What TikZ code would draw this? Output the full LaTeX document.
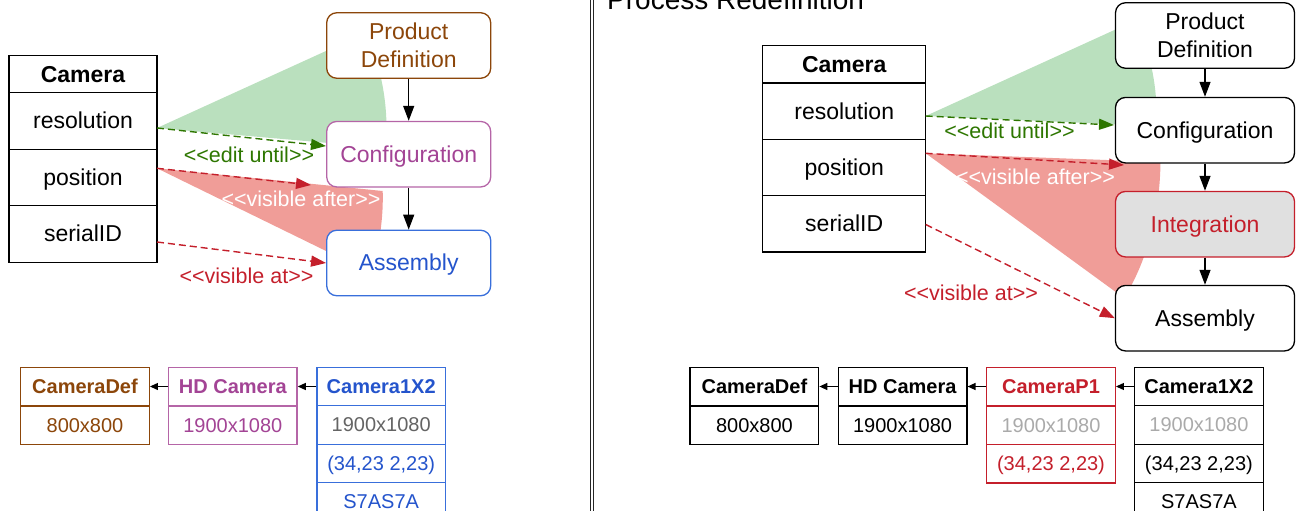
\documentclass[tikz,border=0pt]{standalone}
\usepackage{fontspec}
\setmainfont{Liberation Sans}
\usetikzlibrary{arrows.meta}
\definecolor{brownc}{RGB}{140,70,10}
\definecolor{purpc}{RGB}{163,68,149}
\definecolor{purpb}{RGB}{181,101,167}
\definecolor{bluec}{RGB}{36,84,204}
\definecolor{blueb}{RGB}{57,111,219}
\definecolor{greenc}{RGB}{45,118,0}
\definecolor{greenf}{RGB}{186,224,190}
\definecolor{redc}{RGB}{196,31,43}
\definecolor{redf}{RGB}{240,157,152}
\definecolor{grayf}{RGB}{224,224,224}
\definecolor{midgray}{RGB}{100,100,100}
\definecolor{paleg}{RGB}{170,170,170}
\newcommand\fsbody{\fontsize{23}{27.6}\selectfont}
\newcommand\fslab{\fontsize{21.5}{25}\selectfont}
\newcommand\fstab{\fontsize{20}{24}\selectfont}
\newcommand\fstitle{\fontsize{28}{33}\selectfont}
\newcommand\stopen{<\kern0pt<}
\newcommand\stclose{>\kern0pt>}
\begin{document}
\begin{tikzpicture}[x=1pt,y=-1pt,
  midbody/.style={text height=20.8pt, text depth=4.9pt},
  midtab/.style={text height=18.1pt, text depth=4.24pt},
  midlab/.style={text height=19.5pt, text depth=4.6pt},
  proc/.style={draw, fill=white, rounded corners=10pt, line width=1.3pt, minimum width=164pt, minimum height=65.5pt, inner sep=0pt, align=center, font=\fsbody},
  cell/.style={draw, fill=white, line width=1.3pt, inner sep=0pt, font=\fsbody, midbody},
  tcell/.style={draw, fill=white, line width=1.3pt, inner sep=0pt, minimum width=128.6pt, minimum height=38.5pt, font=\fstab, midtab},
  flow/.style={line width=1.3pt, -{Triangle[length=15pt,width=11pt]}},
  refarrow/.style={line width=1.2pt, -{Triangle[length=8pt,width=7pt]}},
  dep/.style={line width=1.4pt, dash pattern=on 7pt off 4pt, -{Triangle[length=15pt,width=11pt]}},
  lab/.style={font=\fslab, inner sep=0pt, midlab},
]
\useasboundingbox (0,0) rectangle (1296,511);

% ---------------- fans (left) ----------------
\fill[greenf] (157,128) -- ++(-24.5:229.5) arc[start angle=-24.5, end angle=5, radius=229.5] -- cycle;
\fill[redf] (157,168.3) -- (382.7,191) .. controls (383.5,215) and (380,250) .. (369,272) -- cycle;
% ---------------- fans (right) ----------------
\fill[greenf] (925.7,116) -- ++(-24.5:231) arc[start angle=-24.5, end angle=2.5, radius=231] -- cycle;
\fill[redf] (925.7,153.3) -- (1160.5,162) .. controls (1160,210) and (1148,260) .. (1124,298) -- cycle;

% ---------------- divider and title ----------------
\draw[line width=1.2pt, black!85] (590.7,-5) -- (590.7,520);
\draw[line width=1.2pt, black!85] (593.3,-5) -- (593.3,520);
\node[anchor=base west, font=\fstitle, inner sep=0pt] (title) at (607,9.5) {Process Redefinition};

% ---------------- left: Camera class ----------------
\node[cell, minimum width=148pt, minimum height=37pt, font=\fsbody\bfseries] (camL) at (83,74.2) {Camera};
\node[cell, minimum width=148pt, minimum height=56.5pt] (resL) at (83,120.9) {resolution};
\node[cell, minimum width=148pt, minimum height=56.5pt] (posL) at (83,177.4) {position};
\node[cell, minimum width=148pt, minimum height=56.5pt] (serL) at (83,233.9) {serialID};

% ---------------- left: process ----------------
\node[proc, draw=brownc, text=brownc] (pdL) at (408.7,45.5) {Product\\Definition};
\node[proc, midbody, draw=purpb, text=purpc] (cfL) at (408.7,154.2) {Configuration};
\node[proc, midbody, draw=blueb, text=bluec] (asL) at (408.7,263) {Assembly};
\draw[flow] (pdL.south) -- (cfL.north);
\draw[flow] (cfL.south) -- (asL.north);

\coordinate (gsL) at (157,128);
\coordinate (geL) at (326,146);
\coordinate (rsL) at (157,168.3);
\coordinate (reL) at (311,185);
\coordinate (vsL) at (157,242);
\draw[dep, greenc] (gsL) -- (geL);
\draw[dep, redc] (rsL) -- (reL);
\draw[dep, redc] (vsL) -- (asL.west);
\node[lab, text=greenc] (euL) at (249,155) {\stopen edit until\stclose};
\node[lab, text=white] (vaL) at (301,199) {\stopen visible after\stclose};
\node[lab, text=redc] (vtL) at (246.5,276) {\stopen visible at\stclose};

% ---------------- left: instances ----------------
\node[tcell, draw=brownc, text=brownc, font=\fstab\bfseries] (cdLh) at (85,386.5) {CameraDef};
\node[tcell, draw=brownc, text=brownc] (cdLa) at (85,425.3) {800x800};
\node[tcell, draw=purpb, text=purpc, font=\fstab\bfseries] (hdLh) at (232.8,386.5) {HD Camera};
\node[tcell, draw=purpb, text=purpc] (hdLa) at (232.8,425.3) {1900x1080};
\node[tcell, draw=blueb, text=bluec, font=\fstab\bfseries] (xLh) at (381.2,386.5) {Camera1X2};
\node[tcell, draw=blueb, text=midgray] (xLa) at (381.2,425) {1900x1080};
\node[tcell, draw=blueb, text=bluec] (xLb) at (381.2,463.5) {(34,23 2,23)};
\node[tcell, draw=blueb, text=bluec] (xLc) at (381.2,502) {S7AS7A};
\draw[refarrow] (hdLh.west) -- (cdLh.east);
\draw[refarrow] (xLh.west) -- (hdLh.east);

% ---------------- right: Camera class ----------------
\node[cell, minimum width=163pt, minimum height=37.3pt, font=\fsbody\bfseries] (camR) at (844.2,64.3) {Camera};
\node[cell, minimum width=163pt, minimum height=56.3pt] (resR) at (844.2,111.2) {resolution};
\node[cell, minimum width=163pt, minimum height=56.3pt] (posR) at (844.2,167.5) {position};
\node[cell, minimum width=163pt, minimum height=56.3pt] (serR) at (844.2,223.8) {serialID};

% ---------------- right: process ----------------
\node[proc, minimum width=179pt] (pdR) at (1205,35.5) {Product\\Definition};
\node[proc, midbody, minimum width=179pt] (cfR) at (1205,130.2) {Configuration};
\node[proc, midbody, minimum width=179pt, draw=redc, fill=grayf, text=redc] (inR) at (1205,224.2) {Integration};
\node[proc, midbody, minimum width=179pt] (asR) at (1205,318.2) {Assembly};
\draw[flow] (pdR.south) -- (cfR.north);
\draw[flow] (cfR.south) -- (inR.north);
\draw[flow] (inR.south) -- (asR.north);

\coordinate (gsR) at (925.7,116);
\coordinate (geR) at (1114,125);
\coordinate (rsR) at (925.7,153.3);
\coordinate (reR) at (1124,165);
\coordinate (vsR) at (925.7,224.5);
\draw[dep, greenc] (gsR) -- (geR);
\draw[dep, redc] (rsR) -- (reR);
\draw[dep, redc] (vsR) -- (asR.west);
\node[lab, text=greenc] (euR) at (1009.5,131.5) {\stopen edit until\stclose};
\node[lab, text=white] (vaR) at (1035.5,177.5) {\stopen visible after\stclose};
\node[lab, text=redc] (vtR) at (971,293.3) {\stopen visible at\stclose};

% ---------------- right: instances ----------------
\node[tcell, font=\fstab\bfseries] (cdRh) at (754.4,386.5) {CameraDef};
\node[tcell] (cdRa) at (754.4,425.3) {800x800};
\node[tcell, font=\fstab\bfseries] (hdRh) at (902.6,386.5) {HD Camera};
\node[tcell] (hdRa) at (902.6,425.3) {1900x1080};
\node[tcell, draw=redc, text=redc, font=\fstab\bfseries] (cpRh) at (1051,386.5) {CameraP1};
\node[tcell, draw=redc, text=paleg] (cpRa) at (1051,425.3) {1900x1080};
\node[tcell, draw=redc, text=redc] (cpRb) at (1051,463.8) {(34,23 2,23)};
\node[tcell, font=\fstab\bfseries] (xRh) at (1198.9,386.5) {Camera1X2};
\node[tcell, text=paleg] (xRa) at (1198.9,425) {1900x1080};
\node[tcell] (xRb) at (1198.9,463.5) {(34,23 2,23)};
\node[tcell] (xRc) at (1198.9,502) {S7AS7A};
\draw[refarrow] (hdRh.west) -- (cdRh.east);
\draw[refarrow] (cpRh.west) -- (hdRh.east);
\draw[refarrow] (xRh.west) -- (cpRh.east);
\end{tikzpicture}
\end{document}
